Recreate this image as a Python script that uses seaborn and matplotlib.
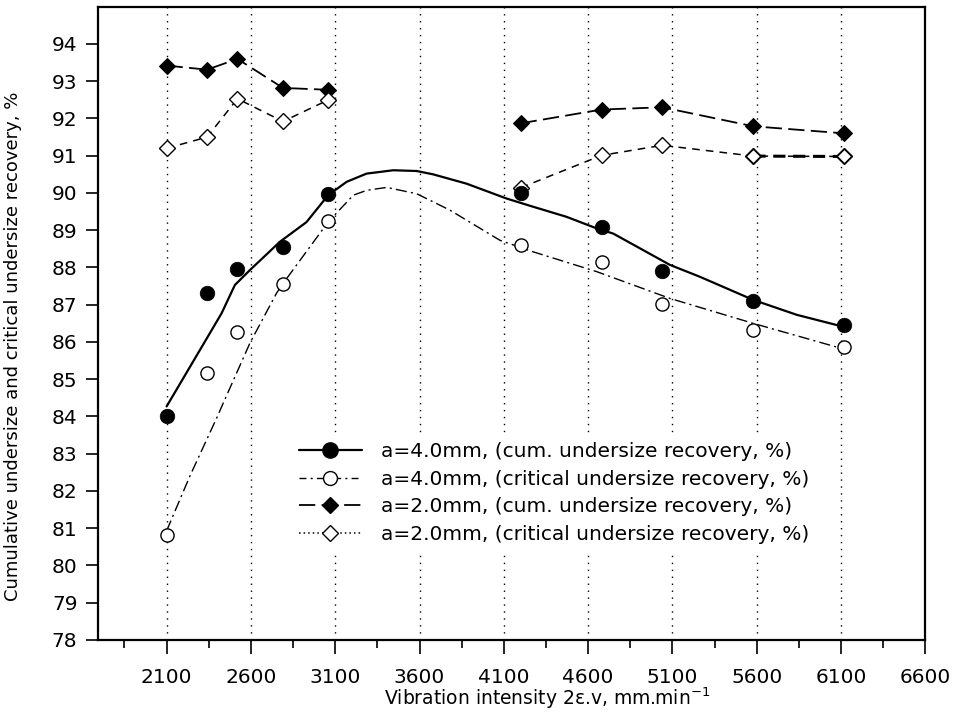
import numpy as np
import pandas as pd
import matplotlib
matplotlib.use("Agg")
import matplotlib.pyplot as plt
from matplotlib.lines import Line2D
from matplotlib.ticker import FixedLocator
import seaborn as sns

# ---- data ----
x_pts = [2100, 2340, 2520, 2790, 3060, 4200, 4680, 5040, 5580, 6120]
seg = [0, 0, 0, 0, 0, 1, 1, 1, 1, 1]
cum4 = [84.0, 87.31, 87.95, 88.54, 89.97, 90.0, 89.09, 87.91, 87.10, 86.45]
crit4 = [80.83, 85.17, 86.26, 87.56, 89.24, 88.60, 88.14, 87.02, 86.31, 85.86]
cum2 = [93.42, 93.31, 93.60, 92.82, 92.77, 91.87, 92.24, 92.30, 91.79, 91.60]
crit2 = [91.20, 91.50, 92.53, 91.92, 92.50, 90.14, 91.01, 91.28, 90.99, 90.98]

cum4_fit_x = [2100, 2357, 2426, 2505, 2594, 2772, 2930, 3058, 3168, 3286, 3444,
              3583, 3681, 3879, 4117, 4274, 4472, 4650, 4749, 5085, 5263, 5579,
              5837, 6113]
cum4_fit_y = [84.27, 86.24, 86.77, 87.53, 87.93, 88.69, 89.22, 89.94, 90.30,
              90.52, 90.61, 90.59, 90.50, 90.25, 89.85, 89.63, 89.36, 89.05,
              88.91, 88.07, 87.75, 87.13, 86.73, 86.41]
crit4_fit_x = [2100, 2238, 2397, 2436, 2594, 2752, 2792, 3058, 3207, 3286, 3405,
               3583, 3780, 4077, 4274, 4650, 5085, 5579, 6093]
crit4_fit_y = [80.93, 82.40, 83.96, 84.36, 85.97, 87.31, 87.58, 89.22, 89.94,
               90.07, 90.15, 89.98, 89.54, 88.73, 88.42, 87.89, 87.17, 86.50,
               85.84]

x_ticks = [2100, 2600, 3100, 3600, 4100, 4600, 5100, 5600, 6100, 6600]
y_ticks = list(range(78, 95))

labels = ["a=4.0mm, (cum. undersize recovery, %)",
          "a=4.0mm, (critical undersize recovery, %)",
          "a=2.0mm, (cum. undersize recovery, %)",
          "a=2.0mm, (critical undersize recovery, %)"]

pts = pd.DataFrame({"x": x_pts, "seg": seg, "cum4": cum4, "crit4": crit4,
                    "cum2": cum2, "crit2": crit2})
fit_cum = pd.DataFrame({"x": cum4_fit_x, "y": cum4_fit_y})
fit_crit = pd.DataFrame({"x": crit4_fit_x, "y": crit4_fit_y})

sns.set_style("ticks")
plt.rcParams["font.family"] = ["DejaVu Sans"]
plt.rcParams["text.color"] = "black"
plt.rcParams["axes.labelcolor"] = "black"
plt.rcParams["xtick.color"] = "black"
plt.rcParams["ytick.color"] = "black"

fig = plt.figure(figsize=(9.63, 7.15), dpi=100)
ax = fig.add_axes([0.1021, 0.1049, 0.9609 - 0.1021, 0.9906 - 0.1049])

ax.set_xlim(1695, 6600)
ax.set_ylim(78, 95)

ax.xaxis.set_major_locator(FixedLocator(x_ticks))
ax.xaxis.set_minor_locator(FixedLocator([x - 250 for x in x_ticks]))
ax.yaxis.set_major_locator(FixedLocator(y_ticks))
ax.grid(False)
for xv in x_ticks[:-1]:
    ax.axvline(xv, color="black", lw=1.0, linestyle=(0, (1, 4)), zorder=0.5)

# fitted curves for a=4.0mm
sns.lineplot(data=fit_cum, x="x", y="y", ax=ax, color="black", lw=1.6,
             sort=False, estimator=None, zorder=3)
sns.lineplot(data=fit_crit, x="x", y="y", ax=ax, color="black", lw=1.0,
             sort=False, estimator=None, linestyle=(0, (8, 3, 1.5, 3)), zorder=3)

# a=2.0mm series (two segments)
for s in [0, 1]:
    d = pts[pts["seg"] == s]
    sns.lineplot(data=d, x="x", y="cum2", ax=ax, color="black", lw=1.3,
                 estimator=None, linestyle=(0, (9, 3.5)), marker="D",
                 markersize=8, markerfacecolor="black", markeredgecolor="black",
                 zorder=4)
    sns.lineplot(data=d, x="x", y="crit2", ax=ax, color="black", lw=1.1,
                 estimator=None, linestyle=(0, (5, 4)), marker="D",
                 markersize=8, markerfacecolor="white", markeredgecolor="black",
                 markeredgewidth=1.0, zorder=4)
last = pts.iloc[-2:]
sns.lineplot(data=last, x="x", y="crit2", ax=ax, color="black", lw=2.2,
             estimator=None, linestyle=(0, (4, 2.5)), zorder=3.5)
sns.scatterplot(data=last, x="x", y="crit2", ax=ax, marker="D", s=55,
                color="white", edgecolor="black", linewidth=1.0, zorder=5)

# a=4.0mm points
sns.scatterplot(data=pts, x="x", y="cum4", ax=ax, color="black", s=110,
                edgecolor="black", linewidth=0.5, zorder=5)
sns.scatterplot(data=pts, x="x", y="crit4", ax=ax, color="white", s=90,
                edgecolor="black", linewidth=1.0, zorder=5)

# axes styling
for sp in ax.spines.values():
    sp.set_visible(True)
    sp.set_linewidth(1.6)
    sp.set_color("black")
ax.tick_params(axis="x", which="major", direction="out", length=10, width=1.2,
               pad=10, labelsize=14.5)
ax.tick_params(axis="x", which="minor", direction="out", length=6, width=1.2)
ax.tick_params(axis="y", which="major", direction="out", length=9, width=1.2,
               pad=6, labelsize=14.5)
ax.set_xlabel("Vibration intensity 2\u03b5.v, mm.min$^{-1}$", fontsize=13.5)
ax.xaxis.set_label_coords(0.543, -0.072)
ax.set_ylabel("Cumulative undersize and critical undersize recovery, %",
              fontsize=13)
ax.yaxis.set_label_coords(-0.092, 0.463)

handles = [
    Line2D([], [], color="black", lw=1.6, marker="o", markersize=11,
           markerfacecolor="black"),
    Line2D([], [], color="black", lw=1.0, linestyle=(0, (5, 3, 1.5, 3)),
           marker="o", markersize=10, markerfacecolor="white"),
    Line2D([], [], color="black", lw=1.3, linestyle=(0, (9, 3.5)), marker="D",
           markersize=8, markerfacecolor="black"),
    Line2D([], [], color="black", lw=1.1, linestyle=(0, (1, 2)), marker="D",
           markersize=8, markerfacecolor="white"),
]
leg = ax.legend(handles, labels, loc="upper left", bbox_to_anchor=(0.233, 0.325),
                borderaxespad=0, borderpad=0.4, frameon=True, fontsize=14.5,
                handlelength=3.1, handletextpad=0.95, labelspacing=0.42,
                numpoints=1, fancybox=False)
leg.get_frame().set_edgecolor("none")
leg.get_frame().set_facecolor("white")
leg.get_frame().set_alpha(1)

fig.savefig("out.png", dpi=100)
